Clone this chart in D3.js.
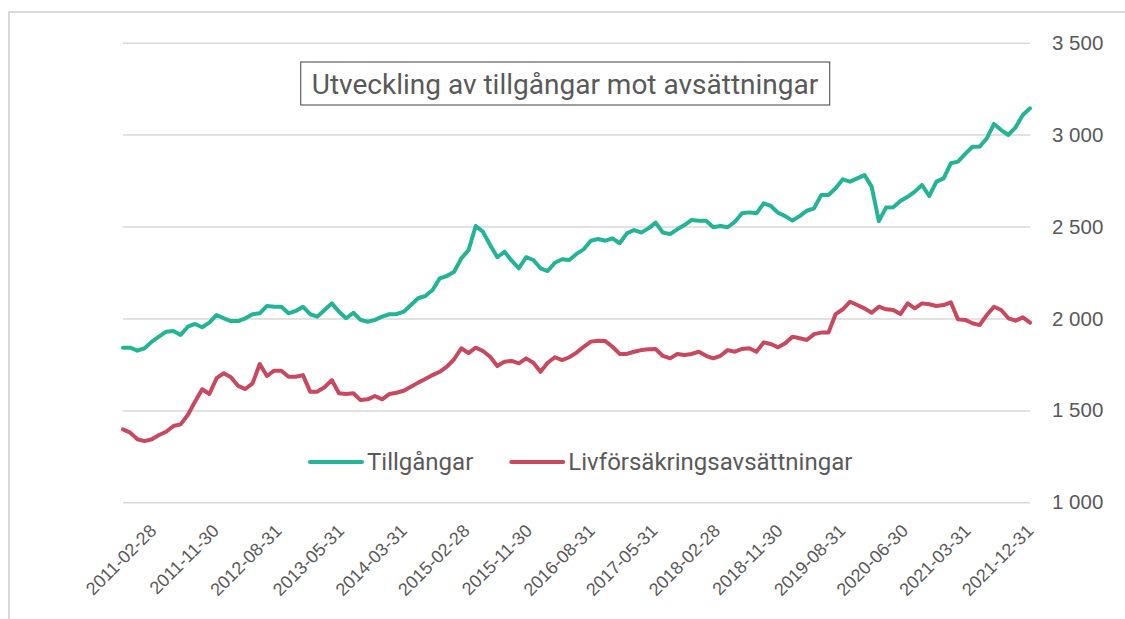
<!DOCTYPE html>
<html>
<head>
<meta charset="utf-8">
<script src="https://cdn.jsdelivr.net/npm/d3@7"></script>
<style>
  body { margin: 0; background: #fff; }
  svg { display: block; font-family: Roboto, "Liberation Sans", sans-serif; }
</style>
</head>
<body>
<div id="chart"></div>
<script>
// month ends that are not in the source table
const missingMonths = ["2013-12-31", "2014-06-30", "2014-12-31", "2019-12-31"];

const tickLabels = [
  "2011-02-28", "2011-11-30", "2012-08-31", "2013-05-31", "2014-03-31",
  "2015-02-28", "2015-11-30", "2016-08-31", "2017-05-31", "2018-02-28",
  "2018-11-30", "2019-08-31", "2020-06-30", "2021-03-31", "2021-12-31",
];

const yTicks = [1000, 1500, 2000, 2500, 3000, 3500];

const seriesNames = ["Tillgångar", "Livförsäkringsavsättningar"];
const seriesColors = ["#22b495", "#c8485f"];

const tillgangar = [
  1841, 1841, 1825, 1838, 1874, 1901, 1928, 1932, 1910, 1955, 1970, 1952, 1977, 2019, 2001, 1986,
  1986, 2001, 2023, 2028, 2068, 2064, 2064, 2028, 2041, 2064, 2023, 2010, 2046, 2082, 2037,
  2001, 2031, 1992, 1982, 1992, 2010, 2023, 2023, 2037, 2073, 2110, 2122, 2155, 2218, 2231, 2254,
  2327, 2372, 2503, 2472, 2400, 2333, 2363, 2314, 2273, 2333, 2318, 2273, 2258, 2303, 2322, 2318, 2351,
  2376, 2423, 2432, 2423, 2436, 2409, 2463, 2481, 2467, 2490, 2521, 2467, 2459, 2485, 2508, 2536,
  2532, 2532, 2496, 2503, 2496, 2526, 2572, 2577, 2572, 2626, 2612, 2575, 2557, 2532, 2557, 2586,
  2599, 2672, 2672, 2708, 2757, 2744, 2762, 2780, 2717, 2530, 2603, 2605, 2639, 2662, 2690, 2726,
  2666, 2744, 2762, 2844, 2853, 2895, 2934, 2934, 2980, 3058, 3025, 2998, 3040, 3107, 3143,
];

const avsattningar = [
  1397, 1379, 1343, 1333, 1343, 1366, 1384, 1415, 1424, 1475, 1547, 1615, 1589, 1675, 1702, 1680,
  1633, 1616, 1647, 1752, 1687, 1716, 1716, 1683, 1683, 1692, 1602, 1602, 1626, 1665, 1593,
  1589, 1593, 1556, 1560, 1578, 1560, 1589, 1596, 1607, 1629, 1651, 1671, 1692, 1710, 1738, 1778,
  1838, 1811, 1841, 1823, 1792, 1741, 1765, 1769, 1756, 1783, 1759, 1710, 1759, 1789, 1774, 1789, 1814,
  1846, 1874, 1879, 1877, 1846, 1807, 1807, 1819, 1828, 1832, 1834, 1796, 1783, 1807, 1801, 1807,
  1819, 1797, 1783, 1797, 1828, 1819, 1834, 1838, 1819, 1870, 1861, 1843, 1865, 1901, 1892, 1883,
  1915, 1923, 1923, 2024, 2050, 2091, 2073, 2055, 2031, 2064, 2050, 2046, 2024, 2082, 2055, 2082,
  2077, 2068, 2073, 2088, 1995, 1992, 1974, 1964, 2019, 2064, 2046, 2001, 1988, 2006, 1977,
];

const width = 1125;
const height = 619;

// category axis: month-end dates, minus the months missing in the table
const fmtDate = d3.utcFormat("%Y-%m-%d");
const dates = d3
  .utcMonth.range(new Date(Date.UTC(2011, 1, 1)), new Date(Date.UTC(2022, 0, 1)))
  .map((d) => fmtDate(d3.utcDay.offset(d3.utcMonth.offset(d, 1), -1)))
  .filter((d) => !missingMonths.includes(d));

const series = [tillgangar, avsattningar];

const locale = d3.formatLocale({ decimal: ",", thousands: " ", grouping: [3], currency: ["", " kr"] });
const yFormat = locale.format(",");

function LineChart(id, {
  marginLeft = 123,
  plotRight = 1030,
  yTop = 42.7,
  yBottom = 502.3,
} = {}) {
  const x = d3.scalePoint(dates, [marginLeft, plotRight]);
  const y = d3.scaleLinear([1000, 3500], [yBottom, yTop]);
  // Excel spreads the rotated labels a little differently from the points
  const xLabel = d3.scalePoint(tickLabels, [157, 1034]);

  const svg = d3
    .select(id)
    .append("svg")
    .attr("width", width)
    .attr("height", height)
    .attr("viewBox", [0, 0, width, height]);

  svg.append("rect").attr("width", width).attr("height", height).attr("fill", "#fff");

  // chart area border (runs off the picture on the right and bottom)
  svg
    .append("rect")
    .attr("x", 9)
    .attr("y", 12)
    .attr("width", width + 40)
    .attr("height", height + 40)
    .attr("fill", "none")
    .attr("stroke", "#d9d9d9")
    .attr("stroke-width", 2);

  // y axis on the right, tick lines doubled as grid
  svg
    .append("g")
    .attr("transform", `translate(${marginLeft},0)`)
    .call(
      d3.axisRight(y)
        .tickValues(yTicks)
        .tickSize(plotRight - marginLeft)
        .tickPadding(22)
        .tickFormat(yFormat)
    )
    .call((g) => g.select(".domain").remove())
    .call((g) => g.selectAll(".tick line").attr("stroke", "#d9d9d9").attr("stroke-width", 1.5))
    .call((g) =>
      g
        .selectAll(".tick text")
        .attr("fill", "#595959")
        .attr("font-size", 20.5)
    );

  // x labels, rotated
  svg
    .append("g")
    .attr("transform", `translate(0,532)`)
    .call(d3.axisBottom(xLabel).tickSize(0).tickPadding(0))
    .call((g) => g.select(".domain").remove())
    .call((g) =>
      g
        .selectAll(".tick text")
        .attr("y", 0)
        .attr("dy", 0)
        .attr("transform", "rotate(-45)")
        .attr("text-anchor", "end")
        .attr("fill", "#595959")
        .attr("font-size", 18)
    );

  const line = d3
    .line()
    .x((d, i) => x(dates[i]))
    .y((d) => y(d));

  svg
    .append("g")
    .selectAll("path")
    .data(series)
    .join("path")
    .attr("fill", "none")
    .attr("stroke", (d, i) => seriesColors[i])
    .attr("stroke-width", 4)
    .attr("stroke-linejoin", "round")
    .attr("stroke-linecap", "round")
    .attr("d", line);

  // title box
  const title = svg.append("g");
  const titleText = title
    .append("text")
    .attr("x", 565)
    .attr("y", 94)
    .attr("text-anchor", "middle")
    .attr("fill", "#595959")
    .attr("font-size", 28)
    .text("Utveckling av tillgångar mot avsättningar");
  const tb = titleText.node().getBBox();
  title
    .insert("rect", "text")
    .attr("x", tb.x - 11)
    .attr("y", 62)
    .attr("width", tb.width + 22)
    .attr("height", 43)
    .attr("fill", "#fff")
    .attr("stroke", "#404040")
    .attr("stroke-width", 1);

  // legend
  const legend = svg.append("g").attr("transform", "translate(310,462)");
  let offset = 0;
  seriesNames.forEach((name, i) => {
    const item = legend.append("g").attr("transform", `translate(${offset},0)`);
    item
      .append("line")
      .attr("x1", 0)
      .attr("x2", 52)
      .attr("stroke", seriesColors[i])
      .attr("stroke-width", 4)
      .attr("stroke-linecap", "round");
    const t = item
      .append("text")
      .attr("x", 57)
      .attr("dy", "0.35em")
      .attr("fill", "#595959")
      .attr("font-size", 24)
      .text(name);
    offset += 57 + t.node().getComputedTextLength() + 38;
  });

  return svg.node();
}

LineChart("#chart");
</script>
</body>
</html>
